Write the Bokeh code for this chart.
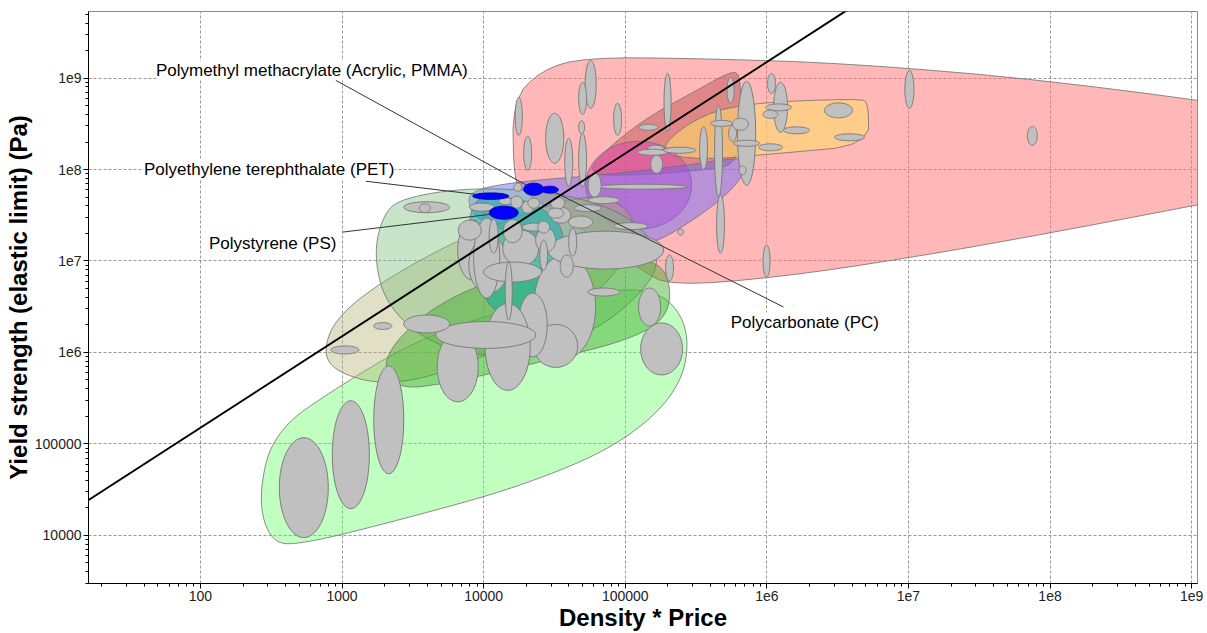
import numpy as np
from bokeh.plotting import figure
from bokeh.models import ColumnDataSource, FixedTicker, Range1d, CustomJSTickFormatter
from bokeh.core.properties import value
from bokeh.embed import file_html
from bokeh.resources import INLINE

# ---------------------------------------------------------------- axes
x_ticks = [1e2, 1e3, 1e4, 1e5, 1e6, 1e7, 1e8, 1e9]
x_tick_labels = ["100", "1000", "10000", "100000", "1e6", "1e7", "1e8", "1e9"]
y_ticks = [1e4, 1e5, 1e6, 1e7, 1e8, 1e9]
y_tick_labels = ["10000", "100000", "1e6", "1e7", "1e8", "1e9"]
x_limits = (16.2, 1.1e9)
y_limits = (2970.0, 5.35e9)

# ---------------------------------------------------------------- family envelopes
# vertices as log10(density * price), log10(yield strength)
metals_lx = [4.212, 4.205, 4.403, 4.706, 5.532, 6.591, 8.002, 9.766, 9.766, 8.002, 7.000, 6.097, 5.320, 5.109, 4.544, 4.262]
metals_ly = [7.938, 8.757, 9.084, 9.226, 9.215, 9.160, 8.975, 8.604, 7.829, 7.305, 7.032, 6.824, 6.726, 6.901, 7.501, 7.774]

composites_lx = [4.706, 4.897, 5.179, 5.532, 5.730, 5.814, 5.814, 5.793, 5.532, 5.109]
composites_ly = [7.938, 8.265, 8.593, 8.888, 9.062, 9.062, 8.538, 8.047, 7.992, 7.938]

ceramics_lx = [5.215, 5.462, 5.814, 6.661, 6.718, 6.718, 6.097, 5.532]
ceramics_ly = [8.189, 8.538, 8.724, 8.778, 8.724, 8.265, 8.178, 8.102]

# elliptical envelope: centre and half-range (decades)
fibres_centre = (5.095, 7.829)
fibres_halfrange = (0.374, 0.480)

polymers_lx = [3.888, 3.909, 4.262, 4.826, 5.391, 5.800, 5.885, 5.744, 5.462, 5.179, 4.826, 4.332, 3.980]
polymers_ly = [7.610, 7.774, 7.872, 7.938, 8.036, 8.134, 8.069, 7.752, 7.425, 7.174, 7.119, 7.250, 7.425]

foams_lx = [2.512, 2.992, 3.556, 4.262, 4.826, 5.257, 5.462, 5.391, 4.968, 4.262, 3.415, 2.709, 2.498, 2.406]
foams_ly = [5.132, 5.645, 6.158, 6.519, 6.682, 6.682, 6.246, 5.591, 4.990, 4.532, 4.171, 3.898, 3.920, 4.390]

natural_lx = [2.865, 2.956, 3.274, 3.838, 4.544, 4.897, 5.109, 4.897, 4.332, 3.697, 3.274, 2.956]
natural_ly = [6.005, 6.377, 6.770, 7.250, 7.665, 7.719, 7.392, 6.737, 6.191, 5.754, 5.645, 5.787]

woods_lx = [3.415, 3.909, 4.544, 5.038, 5.257, 5.144, 4.756, 4.121, 3.627, 3.309, 3.224, 3.288]
woods_ly = [7.687, 7.807, 7.752, 7.501, 7.064, 6.682, 6.191, 5.918, 6.082, 6.519, 7.064, 7.501]

elastomers_lx = [3.274, 3.556, 3.980, 4.544, 5.109, 5.306, 5.320, 5.038, 4.403, 3.768, 3.380]
elastomers_ly = [5.918, 6.409, 6.759, 6.988, 7.032, 6.901, 6.409, 6.137, 5.896, 5.667, 5.591]

tpe_lx = [3.895, 4.121, 4.403, 4.579, 4.544, 4.403, 4.191, 4.015, 3.909]
tpe_ly = [7.665, 7.719, 7.610, 7.337, 6.901, 6.573, 6.377, 6.519, 7.010]

env_colors = ["#ff7070", "#c05858", "#ffde64", "#dc3cb4", "#6464ff",
              "#64ff64", "#b4af6e", "#78be78", "#3caa28", "#00aaaa"]
env_alphas = [0.5, 0.5, 0.55, 0.45, 0.45, 0.4, 0.4, 0.4, 0.45, 0.5]

# ---------------------------------------------------------------- materials
# centre (log10) and half-range (decades) of each material bubble
gray_lx = [2.730, 3.062, 3.330, 3.020, 3.288, 3.598, 3.584,
           5.257, 5.172, 4.572, 4.862, 4.509, 4.347, 3.817, 4.170, 4.015, 3.598,
           3.923, 4.036, 4.262, 4.438, 4.544, 4.685,
           4.022, 4.205, 4.177, 4.587, 4.848, 5.313,
           3.902, 4.071, 4.205, 3.987, 4.156, 4.241, 4.234, 4.311, 4.354, 4.523, 4.509, 4.361, 4.424, 4.424, 4.629,
           5.857, 5.659, 5.673, 4.756, 4.699, 4.248, 4.311, 4.502, 4.601, 4.692, 4.699, 4.946, 5.299, 5.165, 5.215,
           5.193, 5.384, 5.222, 5.123, 4.784, 4.848, 4.735, 5.038, 5.391, 5.744, 6.033, 6.097, 6.083, 6.025, 6.210,
           6.026, 6.506, 6.584, 5.680, 5.553, 5.758, 5.814, 5.857, 5.829, 5.998, 7.007, 7.875]
gray_ly = [4.521, 4.881, 5.263, 6.027, 6.289, 7.588, 7.578,
           6.038, 6.497, 6.497, 7.119, 6.071, 6.300, 5.842, 6.060, 6.191, 6.311,
           7.119, 6.955, 7.141, 7.228, 7.501, 7.425,
           7.032, 6.879, 6.671, 6.944, 6.660, 6.923,
           7.337, 7.272, 7.326, 7.588, 7.654, 7.807, 7.643, 7.588, 7.632, 7.632, 7.523, 7.370, 7.370, 7.064, 7.206,
           8.396, 8.200, 7.403, 8.931, 8.778, 8.582, 8.178, 8.342, 8.080, 8.462, 8.102, 8.549, 8.735, 8.462, 8.233,
           8.189, 8.211, 8.058, 7.812, 7.829, 7.665, 7.578, 7.381, 7.316, 8.866, 8.942, 8.680, 8.680, 8.604, 8.429,
           8.243, 8.647, 8.353, 8.505, 8.233, 8.396, 8.495, 8.287, 7.992, 6.999, 8.877, 8.369]
gray_rx = [0.173, 0.131, 0.106, 0.099, 0.064, 0.162, 0.039,
           0.148, 0.078, 0.219, 0.409, 0.155, 0.102, 0.145, 0.159, 0.353, 0.162,
           0.106, 0.141, 0.127, 0.071, 0.071, 0.085,
           0.092, 0.205, 0.025, 0.046, 0.113, 0.028,
           0.081, 0.032, 0.067, 0.088, 0.049, 0.028, 0.042, 0.042, 0.042, 0.049, 0.056, 0.088, 0.042, 0.028, 0.028,
           0.064, 0.028, 0.028, 0.039, 0.028, 0.025, 0.028, 0.064, 0.028, 0.021, 0.028, 0.028, 0.025, 0.067, 0.056,
           0.106, 0.113, 0.042, 0.318, 0.046, 0.109, 0.095, 0.120, 0.021, 0.025, 0.028, 0.049, 0.092, 0.053, 0.092,
           0.085, 0.099, 0.106, 0.078, 0.028, 0.028, 0.056, 0.092, 0.025, 0.025, 0.032, 0.035]
gray_ry = [0.546, 0.590, 0.590, 0.044, 0.038, 0.060, 0.049,
           0.284, 0.207, 0.568, 0.207, 0.235, 0.349, 0.382, 0.475, 0.147, 0.098,
           0.328, 0.306, 0.197, 0.131, 0.087, 0.066,
           0.437, 0.109, 0.317, 0.120, 0.044, 0.142,
           0.109, 0.186, 0.126, 0.044, 0.038, 0.044, 0.066, 0.066, 0.055, 0.066, 0.055, 0.044, 0.066, 0.164, 0.153,
           0.568, 0.502, 0.317, 0.262, 0.175, 0.207, 0.186, 0.273, 0.262, 0.071, 0.295, 0.175, 0.317, 0.033, 0.033,
           0.033, 0.033, 0.098, 0.027, 0.131, 0.038, 0.038, 0.038, 0.033, 0.142, 0.109, 0.273, 0.038, 0.044, 0.038,
           0.038, 0.082, 0.038, 0.033, 0.235, 0.087, 0.066, 0.033, 0.049, 0.175, 0.207, 0.104]

# highlighted materials
hl_names = ["Polymethyl methacrylate (Acrylic, PMMA)", "Polyethylene terephthalate (PET)",
            "Polystyrene (PS)", "Polycarbonate (PC)"]
hl_lx = [4.354, 4.050, 4.142, 4.467]
hl_ly = [7.785, 7.709, 7.528, 7.780]
hl_rx = [0.071, 0.127, 0.102, 0.060]
hl_ry = [0.066, 0.035, 0.071, 0.038]

# label anchors and leader starting points (data units)
label_x = [48.5, 39.9, 114.8, 5.55e5]
label_y = [1.21e9, 1.0e8, 1.57e7, 2.15e6]
leader_x = [904.0, 1472.0, 1014.0, 1.31e6]
leader_y = [9.44e8, 7.45e7, 2.07e7, 3.14e6]

# selection guide line, strength / (density * price) = 1500
guide_x = [10.0, 1.0e7]
guide_y = [1.5e4, 1.5e10]

# ---------------------------------------------------------------- geometry helpers
theta = np.linspace(0.0, 2.0 * np.pi, 72)


def ellipse_outline(cx, cy, rx, ry):
    return ((10 ** (cx + rx * np.cos(theta))).tolist(),
            (10 ** (cy + ry * np.sin(theta))).tolist())


def rounded_hull(lx, ly, passes=3):
    pts = np.column_stack([lx, ly]).astype(float)
    for _ in range(passes):
        nxt = np.roll(pts, -1, axis=0)
        out = np.empty((2 * len(pts), 2))
        out[0::2] = 0.75 * pts + 0.25 * nxt
        out[1::2] = 0.25 * pts + 0.75 * nxt
        pts = out
    return (10 ** pts[:, 0]).tolist(), (10 ** pts[:, 1]).tolist()


env_shapes = [
    rounded_hull(metals_lx, metals_ly, 2),
    rounded_hull(composites_lx, composites_ly, 3),
    rounded_hull(ceramics_lx, ceramics_ly, 2),
    ellipse_outline(*fibres_centre, *fibres_halfrange),
    rounded_hull(polymers_lx, polymers_ly, 3),
    rounded_hull(foams_lx, foams_ly, 3),
    rounded_hull(natural_lx, natural_ly, 3),
    rounded_hull(woods_lx, woods_ly, 3),
    rounded_hull(elastomers_lx, elastomers_ly, 3),
    rounded_hull(tpe_lx, tpe_ly, 3),
]
env_src = ColumnDataSource(dict(
    xs=[s[0] for s in env_shapes], ys=[s[1] for s in env_shapes],
    color=env_colors, alpha=env_alphas))

gray_shapes = [ellipse_outline(a, b, c, d) for a, b, c, d in zip(gray_lx, gray_ly, gray_rx, gray_ry)]
gray_src = ColumnDataSource(dict(xs=[s[0] for s in gray_shapes], ys=[s[1] for s in gray_shapes]))

hl_shapes = [ellipse_outline(a, b, c, d) for a, b, c, d in zip(hl_lx, hl_ly, hl_rx, hl_ry)]
hl_src = ColumnDataSource(dict(xs=[s[0] for s in hl_shapes], ys=[s[1] for s in hl_shapes]))

lead_src = ColumnDataSource(dict(x0=leader_x, y0=leader_y,
                                 x1=[10 ** v for v in hl_lx], y1=[10 ** v for v in hl_ly]))
label_src = ColumnDataSource(dict(x=label_x, y=label_y, text=hl_names))

# ---------------------------------------------------------------- figure
p = figure(width=1207, height=633, x_axis_type="log", y_axis_type="log",
           x_range=Range1d(*x_limits), y_range=Range1d(*y_limits),
           output_backend="svg", toolbar_location=None,
           min_border_left=88, min_border_right=10, min_border_top=11, min_border_bottom=49,
           x_axis_label="Density * Price", y_axis_label="Yield strength (elastic limit) (Pa)")
p.background_fill_color = "white"
p.border_fill_color = "white"
p.outline_line_color = "#8a8a8a"
p.outline_line_width = 1

p.patches("xs", "ys", source=env_src, fill_color="color", fill_alpha="alpha",
          line_color="#707070", line_width=1, line_alpha=0.8)
p.patches("xs", "ys", source=gray_src, fill_color="#c0c0c0", fill_alpha=1.0,
          line_color="#7c7c7c", line_width=1)
p.segment("x0", "y0", "x1", "y1", source=lead_src, line_color="#333333", line_width=1)
p.line(guide_x, guide_y, line_color="black", line_width=2)
p.patches("xs", "ys", source=hl_src, fill_color="#0000ff", line_color="#0000b0", line_width=1)
p.text("x", "y", text="text", source=label_src, text_font=value("Liberation Sans"),
       text_font_size="17px", text_baseline="middle", text_align="left", text_color="black",
       background_fill_color="white")

x_minor = [m * 10 ** e for e in range(1, 10) for m in range(2, 10)]
y_minor = [m * 10 ** e for e in range(3, 10) for m in range(2, 10)]
p.xaxis.ticker = FixedTicker(ticks=x_ticks, minor_ticks=x_minor)
p.yaxis.ticker = FixedTicker(ticks=y_ticks, minor_ticks=y_minor)
fmt_code = """
const lt = Math.log10(tick);
for (let i = 0; i < vals.length; i++) {
  if (Math.abs(Math.log10(vals[i]) - lt) < 1e-6) return labs[i];
}
return '';
"""
p.xaxis.formatter = CustomJSTickFormatter(args=dict(vals=x_ticks, labs=x_tick_labels), code=fmt_code)
p.yaxis.formatter = CustomJSTickFormatter(args=dict(vals=y_ticks, labs=y_tick_labels), code=fmt_code)

for ax in (p.xaxis, p.yaxis):
    ax.axis_line_color = "black"
    ax.axis_line_width = 1
    ax.major_tick_line_color = "black"
    ax.minor_tick_line_color = "black"
    ax.major_tick_in = 0
    ax.major_tick_out = 5
    ax.minor_tick_in = 0
    ax.minor_tick_out = 3
    ax.major_label_text_font = "Liberation Sans"
    ax.major_label_text_font_size = "14px"
    ax.major_label_text_color = "#222222"
    ax.axis_label_text_font = "Liberation Sans"
    ax.axis_label_text_font_style = "bold"
    ax.axis_label_text_font_size = "24px"
    ax.axis_label_text_color = "black"
    ax.axis_label_standoff = 0
p.xaxis.major_label_standoff = 2
p.yaxis.major_label_standoff = 2

p.grid.grid_line_color = "#999999"
p.grid.grid_line_dash = "3 2"
p.grid.grid_line_width = 1

open("out.html", "w").write(file_html(p, INLINE))
